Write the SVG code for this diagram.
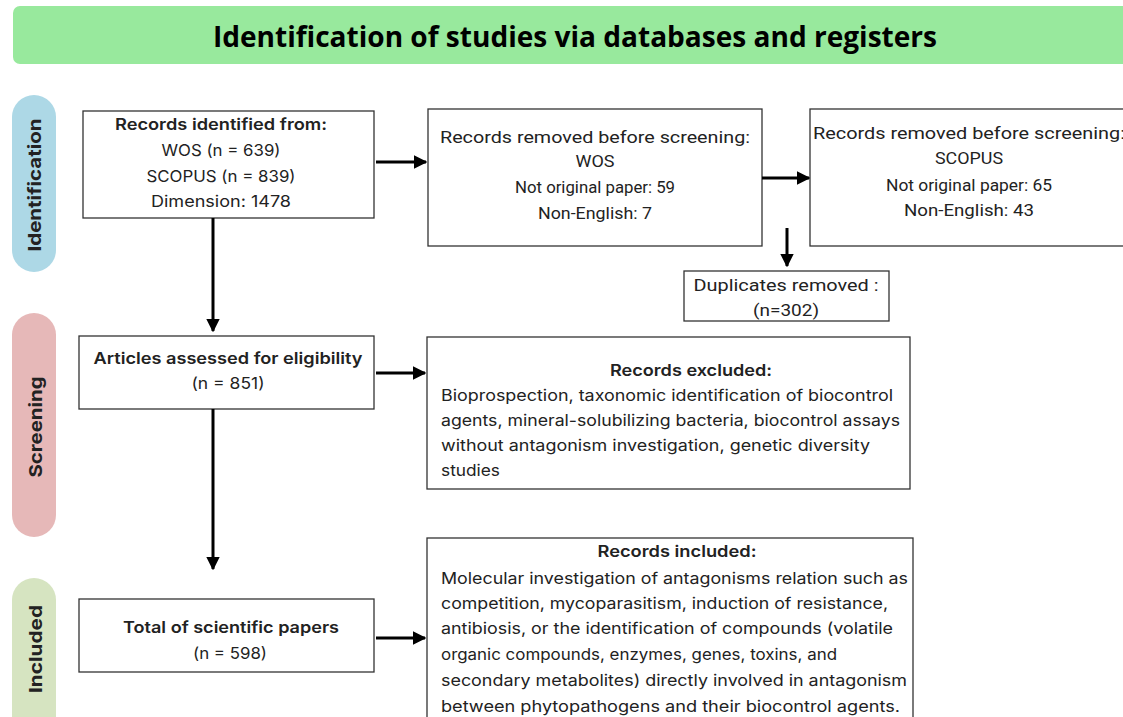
<svg xmlns="http://www.w3.org/2000/svg" width="1123" height="717" viewBox="0 0 1123 717">
<style>
.box{fill:#fff;stroke:#333;stroke-width:1.3}
.t{font-family:Inter,Roboto,"Liberation Sans",sans-serif;font-size:16px;fill:#222;dominant-baseline:central}
.c{text-anchor:middle}
.b{font-weight:600}
.n{font-family:Roboto,"Liberation Sans",sans-serif;font-size:16px;fill:#222;dominant-baseline:central}
.pill{font-family:Inter,Roboto,"Liberation Sans",sans-serif;font-size:18px;font-weight:bold;fill:#222;text-anchor:middle;dominant-baseline:central}
.ln{stroke:#000;stroke-width:3;fill:none;marker-end:url(#ah)}
</style>
<defs>
<marker id="ah" viewBox="0 0 10 10" refX="9" refY="5" markerWidth="4.5" markerHeight="4.5" orient="auto" markerUnits="strokeWidth">
<path d="M0,0 L10,5 L0,10 z" fill="#000"/>
</marker>
</defs>
<rect width="1123" height="717" fill="#fff"/>
<g id="title">
<rect x="13" y="6" width="1130" height="58" rx="7" fill="#98e99d"/>
<text x="575" y="36" font-family="'Open Sans','Noto Sans',sans-serif" font-size="28" font-weight="bold" fill="#000" text-anchor="middle" dominant-baseline="central" textLength="724" lengthAdjust="spacingAndGlyphs">Identification of studies via databases and registers</text>
</g>
<g id="pill-identification">
<rect x="12" y="95" width="44" height="177" rx="22" fill="#add8e6"/>
<text class="pill" transform="translate(34,185) rotate(-90)" textLength="133" lengthAdjust="spacingAndGlyphs">Identification</text>
</g>
<g id="pill-screening">
<rect x="12" y="313" width="44" height="224" rx="22" fill="#e6b8b8"/>
<text class="pill" transform="translate(35,427) rotate(-90)" textLength="101" lengthAdjust="spacingAndGlyphs">Screening</text>
</g>
<g id="pill-included">
<rect x="12" y="578" width="44" height="160" rx="22" fill="#d6e4c1"/>
<text class="pill" transform="translate(35,649) rotate(-90)" textLength="88" lengthAdjust="spacingAndGlyphs">Included</text>
</g>
<g id="records-identified">
<rect class="box" x="83" y="111" width="291" height="107"/>
<text class="t c b" x="221" y="124" textLength="212" lengthAdjust="spacingAndGlyphs">Records identified from:</text>
<text class="t c" x="221" y="150" textLength="119" lengthAdjust="spacingAndGlyphs">WOS (n = 639)</text>
<text class="t c" x="221" y="176" textLength="149" lengthAdjust="spacingAndGlyphs">SCOPUS (n = 839)</text>
<text class="t c" x="221" y="201" textLength="140" lengthAdjust="spacingAndGlyphs">Dimension: 1478</text>
</g>
<g id="removed-wos">
<rect class="box" x="428" y="109" width="334" height="137"/>
<text class="n c" x="595" y="137" textLength="310" lengthAdjust="spacingAndGlyphs">Records removed before screening:</text>
<text class="n c" x="595" y="161" textLength="39" lengthAdjust="spacingAndGlyphs">WOS</text>
<text class="n c" x="595" y="187" textLength="160" lengthAdjust="spacingAndGlyphs">Not original paper: 59</text>
<text class="n c" x="595" y="213" textLength="114" lengthAdjust="spacingAndGlyphs">Non-English: 7</text>
</g>
<g id="removed-scopus">
<rect class="box" x="810" y="109" width="330" height="137"/>
<text class="n" x="813" y="133" textLength="312" lengthAdjust="spacingAndGlyphs">Records removed before screening:</text>
<text class="n c" x="969" y="158" textLength="68" lengthAdjust="spacingAndGlyphs">SCOPUS</text>
<text class="n c" x="969" y="185" textLength="166" lengthAdjust="spacingAndGlyphs">Not original paper: 65</text>
<text class="n c" x="969" y="210" textLength="130" lengthAdjust="spacingAndGlyphs">Non-English: 43</text>
</g>
<g id="duplicates">
<rect class="box" x="684" y="271" width="205" height="50"/>
<text class="n c" x="786" y="285" textLength="185" lengthAdjust="spacingAndGlyphs">Duplicates removed :</text>
<text class="n c" x="786" y="310" textLength="66" lengthAdjust="spacingAndGlyphs">(n=302)</text>
</g>
<g id="articles-assessed">
<rect class="box" x="79" y="336" width="295" height="73"/>
<text class="t c b" x="228" y="358" textLength="269" lengthAdjust="spacingAndGlyphs">Articles assessed for eligibility</text>
<text class="t c" x="228" y="383" textLength="73" lengthAdjust="spacingAndGlyphs">(n = 851)</text>
</g>
<g id="records-excluded">
<rect class="box" x="427" y="337" width="483" height="152"/>
<text class="t c b" x="691" y="370" textLength="162" lengthAdjust="spacingAndGlyphs">Records excluded:</text>
<text class="t" x="441" y="395" textLength="452" lengthAdjust="spacingAndGlyphs">Bioprospection, taxonomic identification of biocontrol</text>
<text class="t" x="441" y="420" textLength="459" lengthAdjust="spacingAndGlyphs">agents, mineral-solubilizing bacteria, biocontrol assays</text>
<text class="t" x="441" y="445" textLength="429" lengthAdjust="spacingAndGlyphs">without antagonism investigation, genetic diversity</text>
<text class="t" x="441" y="470" textLength="59" lengthAdjust="spacingAndGlyphs">studies</text>
</g>
<g id="total-papers">
<rect class="box" x="79" y="599" width="295" height="73"/>
<text class="t c b" x="231" y="627" textLength="216" lengthAdjust="spacingAndGlyphs">Total of scientific papers</text>
<text class="t c" x="230" y="653" textLength="74" lengthAdjust="spacingAndGlyphs">(n = 598)</text>
</g>
<g id="records-included">
<rect class="box" x="427" y="538" width="486" height="200"/>
<text class="t c b" x="677" y="551" textLength="159" lengthAdjust="spacingAndGlyphs">Records included:</text>
<text class="t" x="441" y="578" textLength="467" lengthAdjust="spacingAndGlyphs">Molecular investigation of antagonisms relation such as</text>
<text class="t" x="441" y="603" textLength="447" lengthAdjust="spacingAndGlyphs">competition, mycoparasitism, induction of resistance,</text>
<text class="t" x="441" y="628" textLength="452" lengthAdjust="spacingAndGlyphs">antibiosis, or the identification of compounds (volatile</text>
<text class="t" x="441" y="654" textLength="396" lengthAdjust="spacingAndGlyphs">organic compounds, enzymes, genes, toxins, and</text>
<text class="t" x="441" y="680" textLength="466" lengthAdjust="spacingAndGlyphs">secondary metabolites) directly involved in antagonism</text>
<text class="t" x="441" y="706" textLength="459" lengthAdjust="spacingAndGlyphs">between phytopathogens and their biocontrol agents.</text>
</g>
<g id="connectors">
<line class="ln" x1="213" y1="218" x2="213" y2="331"/>
<line class="ln" x1="213" y1="409" x2="213" y2="569"/>
<line class="ln" x1="376" y1="162" x2="426" y2="162"/>
<line class="ln" x1="762" y1="178" x2="809" y2="178"/>
<line class="ln" x1="787" y1="228" x2="787" y2="266"/>
<line class="ln" x1="376" y1="373" x2="425" y2="373"/>
<line class="ln" x1="376" y1="638" x2="425" y2="638"/>
</g>
</svg>
